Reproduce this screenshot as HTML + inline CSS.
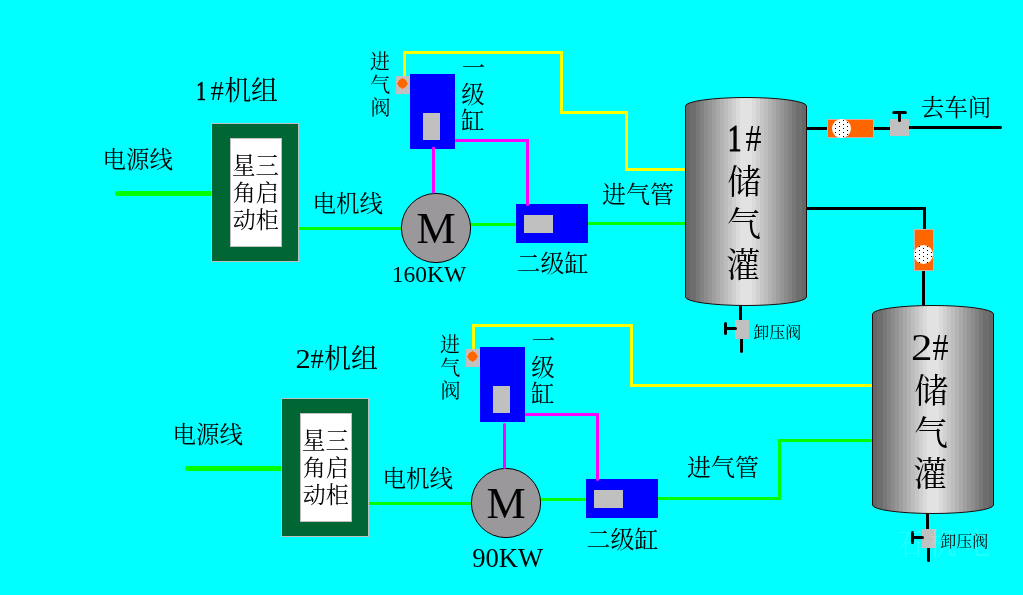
<!DOCTYPE html>
<html lang="zh"><head><meta charset="utf-8"><title>空压机系统图</title>
<style>
html,body{margin:0;padding:0;background:#00ffff;}
body{width:1023px;height:595px;overflow:hidden;font-family:"Liberation Serif",serif;}
svg{display:block}
svg text{font-family:"Liberation Serif","Noto Serif CJK SC",serif;stroke:none}
</style></head><body>
<svg width="1023" height="595" viewBox="0 0 1023 595">
<defs>
<linearGradient id="tg" x1="0" y1="0" x2="1" y2="0"><stop offset="0.0000" stop-color="#666666"/><stop offset="0.0369" stop-color="#666666"/><stop offset="0.0369" stop-color="#6e6e6e"/><stop offset="0.0902" stop-color="#6e6e6e"/><stop offset="0.0902" stop-color="#787878"/><stop offset="0.1231" stop-color="#787878"/><stop offset="0.1231" stop-color="#828282"/><stop offset="0.1560" stop-color="#828282"/><stop offset="0.1560" stop-color="#8c8c8c"/><stop offset="0.1890" stop-color="#8c8c8c"/><stop offset="0.1890" stop-color="#959595"/><stop offset="0.2219" stop-color="#959595"/><stop offset="0.2219" stop-color="#9f9f9f"/><stop offset="0.2548" stop-color="#9f9f9f"/><stop offset="0.2548" stop-color="#a9a9a9"/><stop offset="0.2878" stop-color="#a9a9a9"/><stop offset="0.2878" stop-color="#b3b3b3"/><stop offset="0.3207" stop-color="#b3b3b3"/><stop offset="0.3207" stop-color="#bdbdbd"/><stop offset="0.3537" stop-color="#bdbdbd"/><stop offset="0.3537" stop-color="#c6c6c6"/><stop offset="0.3866" stop-color="#c6c6c6"/><stop offset="0.3866" stop-color="#d0d0d0"/><stop offset="0.4195" stop-color="#d0d0d0"/><stop offset="0.4195" stop-color="#dadada"/><stop offset="0.4525" stop-color="#dadada"/><stop offset="0.4525" stop-color="#e2e2e2"/><stop offset="0.5475" stop-color="#e2e2e2"/><stop offset="0.5475" stop-color="#dadada"/><stop offset="0.5805" stop-color="#dadada"/><stop offset="0.5805" stop-color="#d0d0d0"/><stop offset="0.6134" stop-color="#d0d0d0"/><stop offset="0.6134" stop-color="#c6c6c6"/><stop offset="0.6463" stop-color="#c6c6c6"/><stop offset="0.6463" stop-color="#bdbdbd"/><stop offset="0.6793" stop-color="#bdbdbd"/><stop offset="0.6793" stop-color="#b3b3b3"/><stop offset="0.7122" stop-color="#b3b3b3"/><stop offset="0.7122" stop-color="#a9a9a9"/><stop offset="0.7452" stop-color="#a9a9a9"/><stop offset="0.7452" stop-color="#9f9f9f"/><stop offset="0.7781" stop-color="#9f9f9f"/><stop offset="0.7781" stop-color="#959595"/><stop offset="0.8110" stop-color="#959595"/><stop offset="0.8110" stop-color="#8c8c8c"/><stop offset="0.8440" stop-color="#8c8c8c"/><stop offset="0.8440" stop-color="#828282"/><stop offset="0.8769" stop-color="#828282"/><stop offset="0.8769" stop-color="#787878"/><stop offset="0.9098" stop-color="#787878"/><stop offset="0.9098" stop-color="#6e6e6e"/><stop offset="0.9631" stop-color="#6e6e6e"/><stop offset="0.9631" stop-color="#666666"/><stop offset="1.0000" stop-color="#666666"/></linearGradient>
<pattern id="dots" width="8" height="4" patternUnits="userSpaceOnUse">
<rect x="3" y="0" width="1" height="1" fill="#000"/><rect x="7" y="2" width="1" height="1" fill="#000"/>
</pattern>
</defs>
<rect width="1023" height="595" fill="#00ffff"/>
<g fill="none" stroke-width="3" stroke-linejoin="miter">
<polyline points="404.5,77 404.5,52.5 561.5,52.5 561.5,112.5 626.5,112.5 626.5,169.5 686,169.5" stroke="#ffff00"/>
<polyline points="473.5,350 473.5,325.5 631.5,325.5 631.5,385.5 873,385.5" stroke="#ffff00"/>
<line x1="587" y1="223.5" x2="686" y2="223.5" stroke="#00ff00"/>
<polyline points="657,498.5 779.5,498.5 779.5,440.5 873,440.5" stroke="#00ff00"/>
</g>
<g stroke="#000" stroke-width="3" fill="none" stroke-linecap="round">
<path d="M806 128.5H891M908 127.5H1000.5"/>
<path d="M806 208.5H924.5V230M923.5 270V306"/>
<path d="M740.5 305V321M741.5 338V351.5"/>
<path d="M927.5 513V530M928.5 547V560.5"/>
</g>
<g transform="translate(0 0)">
<line x1="117.5" y1="193.5" x2="212" y2="193.5" stroke="#00ff00" stroke-width="5" stroke-linecap="round"/>
<rect x="211.5" y="123.5" width="87" height="138" fill="#006633" stroke="#c0c0c0" stroke-width="1"/>
<rect x="230.5" y="138.5" width="51" height="108" fill="#ffffff" stroke="#c0c0c0" stroke-width="1"/>
<rect x="299" y="227" width="103" height="3" fill="#00ff00" />
<rect x="470" y="223" width="47" height="3" fill="#00ff00" />
<rect x="516" y="204" width="72" height="39" fill="#0000ff" />
<rect x="524" y="215" width="29" height="18" fill="#c0c0c0" />
<circle cx="436" cy="228" r="34.6" fill="#9a989b" stroke="#000" stroke-width="1"/>
</g>
<g transform="translate(0 0)">
<rect x="410" y="74" width="45" height="75" fill="#0000ff" />
<rect x="423" y="113" width="17" height="27" fill="#c0c0c0" />
<rect x="396" y="76" width="14" height="18" fill="#c0c0c0" />
<circle cx="402.5" cy="83.5" r="4.7" fill="#ff6600"/>
<path d="M402 78h1v11h-1zM397 83h11v1h-11z" fill="#ff6600"/>
</g>
<g transform="translate(70 275)">
<line x1="117.5" y1="193.5" x2="212" y2="193.5" stroke="#00ff00" stroke-width="5" stroke-linecap="round"/>
<rect x="211.5" y="123.5" width="87" height="138" fill="#006633" stroke="#c0c0c0" stroke-width="1"/>
<rect x="230.5" y="138.5" width="51" height="108" fill="#ffffff" stroke="#c0c0c0" stroke-width="1"/>
<rect x="299" y="227" width="103" height="3" fill="#00ff00" />
<rect x="470" y="223" width="47" height="3" fill="#00ff00" />
<rect x="516" y="204" width="72" height="39" fill="#0000ff" />
<rect x="524" y="215" width="29" height="18" fill="#c0c0c0" />
<circle cx="436" cy="228" r="34.6" fill="#9a989b" stroke="#000" stroke-width="1"/>
</g>
<g transform="translate(70 273)">
<rect x="410" y="74" width="45" height="75" fill="#0000ff" />
<rect x="423" y="113" width="17" height="27" fill="#c0c0c0" />
<rect x="396" y="76" width="14" height="18" fill="#c0c0c0" />
<circle cx="402.5" cy="83.5" r="4.7" fill="#ff6600"/>
<path d="M402 78h1v11h-1zM397 83h11v1h-11z" fill="#ff6600"/>
</g>
<g fill="none" stroke="#ff00ff" stroke-width="3" stroke-linecap="round" stroke-linejoin="miter">
<path d="M433.5 148V192M456.5 140.5H527.5V204.5"/>
<path d="M504.5 424.5V467.5M526.5 414.5H597.5V479.5"/>
</g>
<path d="M685.5,106 A60.5,8.5 0 0 1 806.5,106 L806.5,297 A60.5,8.5 0 0 1 685.5,297 Z" fill="url(#tg)" stroke="#1a0c0c" stroke-width="1"/>
<path d="M872.5,314 A60.5,8.5 0 0 1 993.5,314 L993.5,505 A60.5,8.5 0 0 1 872.5,505 Z" fill="url(#tg)" stroke="#1a0c0c" stroke-width="1"/>
<rect x="827.5" y="119.5" width="46" height="18" fill="#ff6600" stroke="#d0b0a8" stroke-width="1"/>
<circle cx="841.5" cy="128.5" r="9.5" fill="#fff"/>
<circle cx="841.5" cy="128.5" r="9.5" fill="url(#dots)"/>
<rect x="914.5" y="229.5" width="19" height="41" fill="#ff6600" stroke="#d0b0a8" stroke-width="1"/>
<circle cx="923.5" cy="254.5" r="9.5" fill="#fff"/>
<circle cx="923.5" cy="254.5" r="9.5" fill="url(#dots)"/>
<rect x="890" y="119" width="19" height="17" fill="#c0c0c0" />
<path d="M899.5 120.5V113M893.8 112.5H905.4" stroke="#000" stroke-width="3" stroke-linecap="round" fill="none"/>
<rect x="735" y="320" width="14" height="19" fill="#c0c0c0" />
<path d="M735.5 328.5H727M725.5 323.5V333.5" stroke="#000" stroke-width="3" stroke-linecap="round" fill="none"/>
<rect x="922" y="529" width="14" height="19" fill="#c0c0c0" />
<path d="M922.5 537.5H914M912.5 532.5V542.5" stroke="#000" stroke-width="3" stroke-linecap="round" fill="none"/>
<g fill="#000" opacity="0.99">
<text transform="translate(196.33 99.55) scale(0.7349 0.9883)" font-size="26.67" style="stroke:#000;stroke-width:0.68px">1</text>
<text x="210.5" y="99.6" font-size="26.67">#</text>
<text x="224.14" y="100.13" font-size="27">机组</text>
<text transform="translate(295.46 367.80) scale(1.1411 1.0250)" font-size="26.67">2</text>
<text x="310.5" y="367.8" font-size="26.67">#</text>
<text x="324.04" y="368.13" font-size="27">机组</text>
<text x="102.58" y="168" font-size="23.5">电源线</text>
<text x="312.47" y="212.27" font-size="23.5">电机线</text>
<text x="232.02" y="174.01" font-size="23.5">星三</text>
<text x="232.82" y="201.23" font-size="23">角启</text>
<text x="232.68" y="227.59" font-size="23">动柜</text>
<text x="516.54" y="272.24" font-size="24">二级缸</text>
<text transform="translate(416.43 243.40) scale(1.0321 1.0594)" font-size="42.67">M</text>
<text x="172.58" y="443" font-size="23.5">电源线</text>
<text x="382.47" y="487.27" font-size="23.5">电机线</text>
<text x="302.02" y="449.01" font-size="23.5">星三</text>
<text x="302.82" y="476.23" font-size="23">角启</text>
<text x="302.68" y="502.59" font-size="23">动柜</text>
<text x="586.54" y="548.24" font-size="24">二级缸</text>
<text transform="translate(486.43 518.40) scale(1.0321 1.0594)" font-size="42.67">M</text>
<text transform="translate(391.63 281.85) scale(0.9820 0.9679)" font-size="24">160KW</text>
<text transform="translate(472.14 567.09) scale(1.0001 1.0198)" font-size="26.67">90KW</text>
<text x="370.07" y="69" font-size="20">进</text>
<text x="370.14" y="92" font-size="20">气</text>
<text x="370.58" y="115.02" font-size="20">阀</text>
<text x="440.07" y="352" font-size="20">进</text>
<text x="440.14" y="375" font-size="20">气</text>
<text x="440.58" y="398.02" font-size="20">阀</text>
<text x="461.79" y="75.56" font-size="23.5">一</text>
<text x="461.15" y="102.65" font-size="23.5">级</text>
<text x="461.12" y="128.74" font-size="23.5">缸</text>
<text x="531.79" y="348.56" font-size="23.5">一</text>
<text x="531.15" y="375.65" font-size="23.5">级</text>
<text x="531.12" y="401.74" font-size="23.5">缸</text>
<text x="602.05" y="203.01" font-size="24">进气管</text>
<text x="687.05" y="476.01" font-size="24">进气管</text>
<text x="920.79" y="116.27" font-size="23.5">去车间</text>
<text x="753.28" y="337.59" font-size="16">卸压阀</text>
<text x="940.28" y="546.59" font-size="16">卸压阀</text>
<text transform="translate(727.68 150.60) scale(0.7381 0.9942)" font-size="37.33" style="stroke:#000;stroke-width:1.08px">1</text>
<text x="745.5" y="150.8" font-size="37.33" textLength="16" lengthAdjust="spacingAndGlyphs">#</text>
<text transform="translate(911.11 360.10) scale(1.1494 1.0277)" font-size="37.33">2</text>
<text x="932.5" y="360" font-size="37.33" textLength="16" lengthAdjust="spacingAndGlyphs">#</text>
<text x="727.13" y="193.6" font-size="34">储</text>
<text x="726.92" y="235.73" font-size="34">气</text>
<text x="726.3" y="277.08" font-size="34">灌</text>
<text x="914.13" y="402.6" font-size="34">储</text>
<text x="913.92" y="444.73" font-size="34">气</text>
<text x="913.3" y="486.08" font-size="34">灌</text>
</g>
<g fill="#fff" opacity="0.14" >
<text x="898.34" y="554.24" font-size="30" textLength="24.6" lengthAdjust="spacingAndGlyphs">石</text>
<text x="928.6" y="554.26" font-size="30" textLength="28" lengthAdjust="spacingAndGlyphs">机</text>
<text x="964.42" y="554.23" font-size="30" textLength="25.3" lengthAdjust="spacingAndGlyphs">电</text>
</g>
</svg>
</body></html>
